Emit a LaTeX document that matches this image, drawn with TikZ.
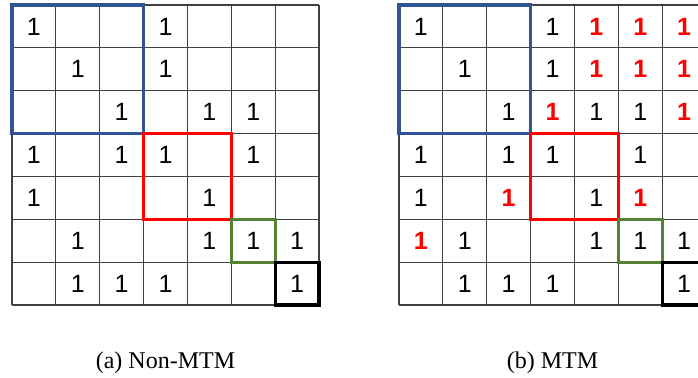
\documentclass[tikz,border=0pt]{standalone}
\usepackage{fontspec}
\setmainfont{Liberation Serif}
\newfontfamily\cifra{Liberation Sans}
\definecolor{azul}{RGB}{47,85,151}
\definecolor{verde}{RGB}{84,130,53}

\begin{document}
\begin{tikzpicture}[x=0.5pt, y=-0.5pt,
  rejilla/.style={draw=black!75, line width=0.6pt},
  caja/.style={line width=1.7pt},
  num/.style={font=\cifra\fontsize{12.5}{14}\selectfont, inner sep=0pt},
  numrojo/.style={num, text=red, font=\cifra\bfseries\fontsize{12.5}{14}\selectfont},
  pie/.style={font=\fontsize{12}{14}\selectfont, anchor=base}]
  \clip (0,0) rectangle (698,377);

  % Cuadriculas
  \foreach \ox in {12,399} {
    \foreach \i in {0,...,7} {
      \draw[rejilla] ({\ox+\i*43.86},5) -- ({\ox+\i*43.86},305);
      \draw[rejilla] (\ox,{5+\i*42.86}) -- ({\ox+307},{5+\i*42.86});
    }
  }

  % Unos (Non-MTM)
  \foreach \r/\c in {1/1,1/4,2/2,2/4,3/3,3/5,3/6,4/1,4/3,4/4,4/6,5/1,5/5,
                     6/2,6/5,6/6,6/7,7/2,7/3,7/4,7/7}
    \node[num] (a-\r-\c) at ({12+(\c-0.5)*43.86},{5+(\r-0.5)*42.86}) {1};

  % Unos (MTM)
  \foreach \r/\c in {1/1,1/4,2/2,2/4,3/3,3/5,3/6,4/1,4/3,4/4,4/6,5/1,5/5,
                     6/2,6/5,6/6,6/7,7/2,7/3,7/4,7/7}
    \node[num] (b-\r-\c) at ({399+(\c-0.5)*43.86},{5+(\r-0.5)*42.86}) {1};
  \foreach \r/\c in {1/5,1/6,1/7,2/5,2/6,2/7,3/4,3/7,5/3,5/6,6/1}
    \node[numrojo] (b-\r-\c) at ({399+(\c-0.5)*43.86},{5+(\r-0.5)*42.86}) {1};

  % Bloques
  \foreach \ox in {12,399} {
    \draw[caja, azul] (\ox,5) rectangle ({\ox+131.6},133.6);
    \draw[caja, red] ({\ox+131.6},133.6) rectangle ({\ox+219.3},219.4);
    \draw[caja, verde] ({\ox+219.3},219.4) rectangle ({\ox+263.2},262.3);
    \draw[caja, black] ({\ox+263.2},262.3) rectangle ({\ox+307},305.1);
  }

  % Titulos
  \node[pie] (capA) at (165.5,368) {(a)\ Non-MTM};
  \node[pie] (capB) at (552.5,368) {(b)\ MTM};
\end{tikzpicture}
\end{document}
